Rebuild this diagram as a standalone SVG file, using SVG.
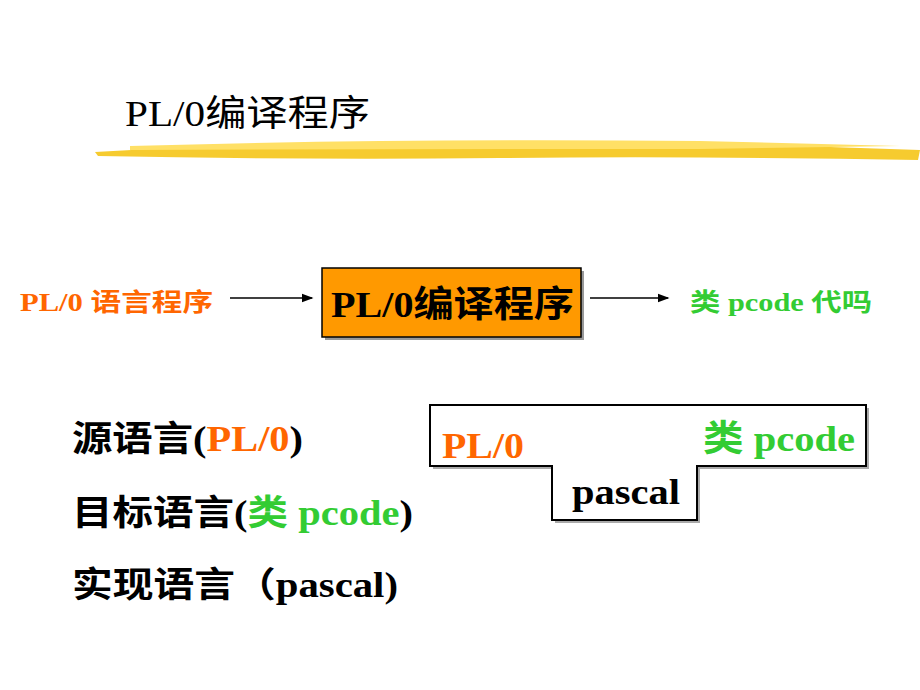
<svg xmlns="http://www.w3.org/2000/svg" width="920" height="690" viewBox="0 0 920 690">
<style>
.s{font-family:"Liberation Serif","Noto Sans CJK SC",serif}
.b{font-weight:bold}
.o{fill:#FF6600}
.g{fill:#33CC33}
</style>
<defs>
<marker id="a" markerWidth="8" markerHeight="8" refX="7" refY="4" orient="auto"><path d="M0,1 L8,4 L0,7 z" fill="#000"/></marker>
</defs>
<rect width="920" height="690" fill="#fff"/>
<g id="title">
<path d="M95,152 Q300,140 500,143 Q700,142 920,150 L918,160 Q700,156 500,158 Q300,160 98,156 z" fill="#F5C518" opacity="0.9"/>
<path d="M130,146 Q400,138 700,141 L900,146 L700,149 Q400,149 130,150 z" fill="#FFE066"/>
<text class="s" x="125" y="126" font-size="36" textLength="245" lengthAdjust="spacingAndGlyphs">PL/0编译程序</text>
</g>
<g id="src"><text class="s b o" x="20" y="311" font-size="25" textLength="193" lengthAdjust="spacingAndGlyphs">PL/0 语言程序</text></g>
<g id="compiler">
<rect x="325" y="271" width="259" height="69" fill="#999"/>
<rect x="322" y="268" width="259" height="69" fill="#FF9900" stroke="#000" stroke-width="1.5"/>
<text class="s b" x="331" y="317" font-size="36" textLength="243" lengthAdjust="spacingAndGlyphs">PL/0编译程序</text>
</g>
<g id="tgt"><text class="s b g" x="690" y="311" font-size="25" textLength="182" lengthAdjust="spacingAndGlyphs">类 pcode 代吗</text></g>
<g id="connectors" stroke="#000" stroke-width="1.5">
<line x1="230" y1="298" x2="312" y2="298" marker-end="url(#a)"/>
<line x1="590" y1="298" x2="668" y2="298" marker-end="url(#a)"/>
</g>
<g id="labels" class="s b" font-size="35">
<text x="72" y="451" textLength="231" lengthAdjust="spacingAndGlyphs">源语言(<tspan class="o">PL/0</tspan>)</text>
<text x="72" y="525" textLength="341" lengthAdjust="spacingAndGlyphs">目标语言(<tspan class="g">类 pcode</tspan>)</text>
<text x="72" y="597" textLength="326" lengthAdjust="spacingAndGlyphs">实现语言（pascal)</text>
</g>
<g id="tdiagram">
<polygon points="433,408 869,408 869,469 700,469 700,523 555,523 555,469 433,469" fill="#aaa"/>
<polygon points="430,405 866,405 866,466 697,466 697,520 552,520 552,466 430,466" fill="#fff" stroke="#000" stroke-width="2"/>
<text class="s b o" x="442" y="458" font-size="36" textLength="82" lengthAdjust="spacingAndGlyphs">PL/0</text>
<text class="s b g" x="703" y="451" font-size="36" textLength="152" lengthAdjust="spacingAndGlyphs">类 pcode</text>
<text class="s b" x="572" y="504" font-size="35" textLength="108" lengthAdjust="spacingAndGlyphs">pascal</text>
</g>
</svg>
